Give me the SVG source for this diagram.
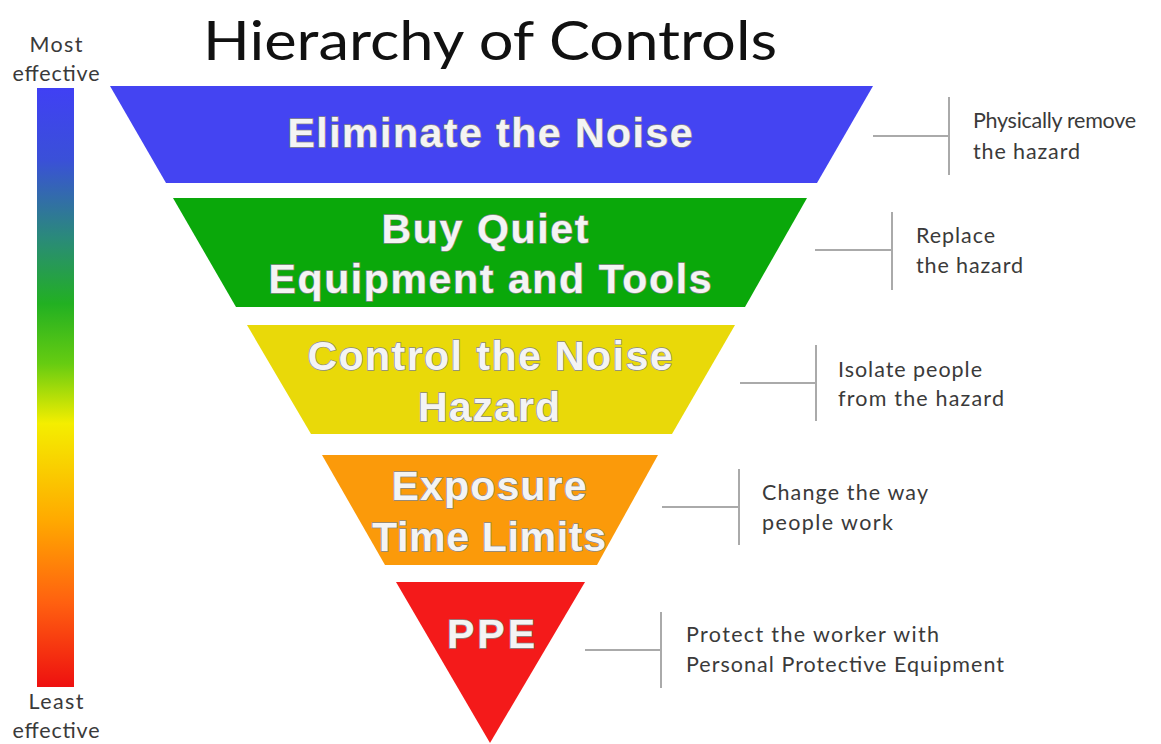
<svg xmlns="http://www.w3.org/2000/svg" width="1161" height="744" viewBox="0 0 1161 744">
<defs>
<linearGradient id="bar" x1="0" y1="0" x2="0" y2="1">
<stop offset="0" stop-color="#4040f4"/>
<stop offset="0.12" stop-color="#3a50d8"/>
<stop offset="0.25" stop-color="#2a8a7a"/>
<stop offset="0.36" stop-color="#22b022"/>
<stop offset="0.46" stop-color="#66cc11"/>
<stop offset="0.56" stop-color="#f4ee00"/>
<stop offset="0.72" stop-color="#ffaa00"/>
<stop offset="0.86" stop-color="#ff6010"/>
<stop offset="1" stop-color="#ee1010"/>
</linearGradient>
<style>
.lvl{font-family:"Liberation Sans",Arial,sans-serif;font-weight:bold;font-size:41px;fill:#f4f4f4;stroke:#888888;stroke-width:1.4;paint-order:stroke;text-anchor:middle}
.side{font-family:Lato,"Open Sans",sans-serif;font-size:21.5px;fill:#3a3a3a}
.edge{font-family:Lato,"Open Sans",sans-serif;font-size:21.5px;fill:#3a3a3a;text-anchor:middle}
.conn{stroke:#aaaaaa;stroke-width:2;fill:none}
</style>
</defs>
<rect width="1161" height="744" fill="#ffffff"/>
<text x="490" y="60" font-family="Lato,'Open Sans',sans-serif" font-size="55" fill="#111" text-anchor="middle" textLength="574" lengthAdjust="spacingAndGlyphs">Hierarchy of Controls</text>
<g id="scale">
<rect x="37" y="88" width="37" height="599" fill="url(#bar)"/>
<text class="edge" x="56" y="52" textLength="53">Most</text>
<text class="edge" x="56" y="81" textLength="87">effective</text>
<text class="edge" x="56" y="709" textLength="55">Least</text>
<text class="edge" x="56" y="738" textLength="87">effective</text>
</g>
<g id="eliminate">
<polygon points="110,86 873,86 817,183 166,183" fill="#4444f2"/>
<text class="lvl" x="490" y="147" textLength="405">Eliminate the Noise</text>
</g>
<g id="substitute">
<polygon points="173,198 807,198 745,307 236,307" fill="#0aa80a"/>
<text class="lvl" x="485" y="243" textLength="207">Buy Quiet</text>
<text class="lvl" x="490" y="293" textLength="443">Equipment and Tools</text>
</g>
<g id="engineering">
<polygon points="247,325 735,325 672,434 311,434" fill="#e9d909"/>
<text class="lvl" x="490" y="370" textLength="365">Control the Noise</text>
<text class="lvl" x="489" y="421" textLength="142">Hazard</text>
</g>
<g id="administrative">
<polygon points="322,455 658,455 597,565 385,565" fill="#fb9a0a"/>
<text class="lvl" x="489" y="500" textLength="195">Exposure</text>
<text class="lvl" x="489" y="551" textLength="234">Time Limits</text>
</g>
<g id="ppe">
<polygon points="396,582 585,582 490,743" fill="#f41a1a"/>
<text class="lvl" x="491" y="648" textLength="88">PPE</text>
</g>
<g id="connectors">
<path class="conn" d="M873,136 H949 M949,97 V175"/>
<path class="conn" d="M815,250 H892 M892,212 V290"/>
<path class="conn" d="M740,383 H816 M816,345 V421"/>
<path class="conn" d="M662,507 H739 M739,469 V545"/>
<path class="conn" d="M585,650 H661 M661,612 V688"/>
</g>
<g id="notes">
<text class="side" x="973" y="128" textLength="163">Physically remove</text>
<text class="side" x="973" y="159" textLength="107">the hazard</text>
<text class="side" x="916" y="243" textLength="79">Replace</text>
<text class="side" x="916" y="273" textLength="107">the hazard</text>
<text class="side" x="838" y="377" textLength="144">Isolate people</text>
<text class="side" x="838" y="406" textLength="166">from the hazard</text>
<text class="side" x="762" y="500" textLength="166">Change the way</text>
<text class="side" x="762" y="530" textLength="131">people work</text>
<text class="side" x="686" y="642" textLength="253">Protect the worker with</text>
<text class="side" x="686" y="672" textLength="318">Personal Protective Equipment</text>
</g>
</svg>
